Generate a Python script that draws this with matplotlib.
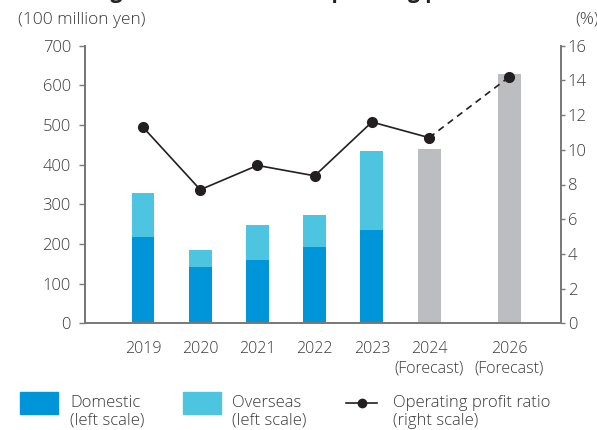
import numpy as np
import matplotlib.pyplot as plt
from matplotlib.patches import Rectangle
from matplotlib.lines import Line2D

plt.rcParams['font.family'] = ['Open Sans', 'DejaVu Sans']
plt.rcParams['font.weight'] = 'light'

years = ['2019', '2020', '2021', '2022', '2023', '2024\n(Forecast)', '2026\n(Forecast)']
xpos = np.array([0, 1, 2, 3, 4, 5, 6.4])
domestic = [218, 142, 160, 192, 235]
overseas = [111, 43, 88, 81, 199]
forecast = [440, 629]
op_ratio = [11.3, 7.7, 9.1, 8.5, 11.6, 10.7, 14.2]

c_dom = '#0095D9'
c_ovs = '#4DC4E0'
c_fc = '#BCBDC1'
c_line = '#231F20'
c_text = '#3a3a3a'
c_axis = '#7a7a7a'
fs = 11.5

fig = plt.figure(figsize=(5.97, 4.30), dpi=100)
ax = fig.add_axes([84.7/597, 1-323.3/430, (560.7-84.7)/597, (323.3-45.7)/430])
ax2 = ax.twinx()

w = 0.40
ax.bar(xpos[:5], domestic, w, color=c_dom, zorder=2)
ax.bar(xpos[:5], overseas, w, bottom=domestic, color=c_ovs, zorder=2)
ax.bar(xpos[5:], forecast, w, color=c_fc, zorder=2)

# actual results solid, forecast segment dashed
ax2.plot(xpos[:6], op_ratio[:6], color=c_line, lw=1.2, zorder=3)
ax2.plot(xpos[5:], op_ratio[5:], color=c_line, lw=1.2, dashes=(4, 3), zorder=3)
ax2.plot(xpos, op_ratio, 'o', color=c_line, ms=7, zorder=4)

ax.set_xlim(-1.02, 7.3)
ax.set_ylim(0, 700)
ax.set_yticks(range(0, 701, 100))
ax2.set_ylim(0, 16)
ax2.set_yticks(range(0, 17, 2))
ax.set_xticks(xpos)
ax.set_xticklabels(years, linespacing=1.25)

ax.tick_params(axis='x', length=0, pad=13, labelsize=fs, labelcolor=c_text)
ax.tick_params(axis='y', length=4, width=1, color=c_axis, pad=6, labelsize=12, labelcolor=c_text)
ax2.tick_params(axis='y', length=3, width=1, color=c_axis, pad=2, labelsize=12, labelcolor=c_text)

for a in (ax, ax2):
    a.spines['top'].set_visible(False)
    for s in ('left', 'right', 'bottom'):
        a.spines[s].set_color(c_axis)
        a.spines[s].set_linewidth(1.3)
ax.spines['left'].set_color('#555555')
ax.set_zorder(ax2.get_zorder() - 1)
ax.patch.set_visible(False)

fig.text(18/597, 1-20/430, '(100 million yen)', fontsize=12.5, color=c_text, va='center', ha='left')
fig.text(575/597, 1-20/430, '(%)', fontsize=12.5, color=c_text, va='center', ha='left')
fig.text(57/597, 1 + 2/430, 'Changes in net sales and operating profit ratio',
         fontsize=15, fontweight='bold', color='#222222', va='baseline', ha='left')

# legend keys
fig.add_artist(Rectangle((20/597, 1-414/430), 38/597, 22/430, color=c_dom, transform=fig.transFigure))
fig.add_artist(Rectangle((183/597, 1-414/430), 38/597, 22/430, color=c_ovs, transform=fig.transFigure))
ly = 1 - 403/430
fig.add_artist(Line2D([346/597, 377/597], [ly, ly], color=c_line, lw=1.2, transform=fig.transFigure))
fig.add_artist(Line2D([361.5/597], [ly], marker='o', ms=6, color=c_line, transform=fig.transFigure))
for x, label in [(70, 'Domestic\n(left scale)'), (232, 'Overseas\n(left scale)'),
                 (393, 'Operating profit ratio\n(right scale)')]:
    fig.text(x/597, 1-395/430, label, fontsize=12, color=c_text, va='top', ha='left', linespacing=1.15)

fig.savefig('out.png', dpi=100)
